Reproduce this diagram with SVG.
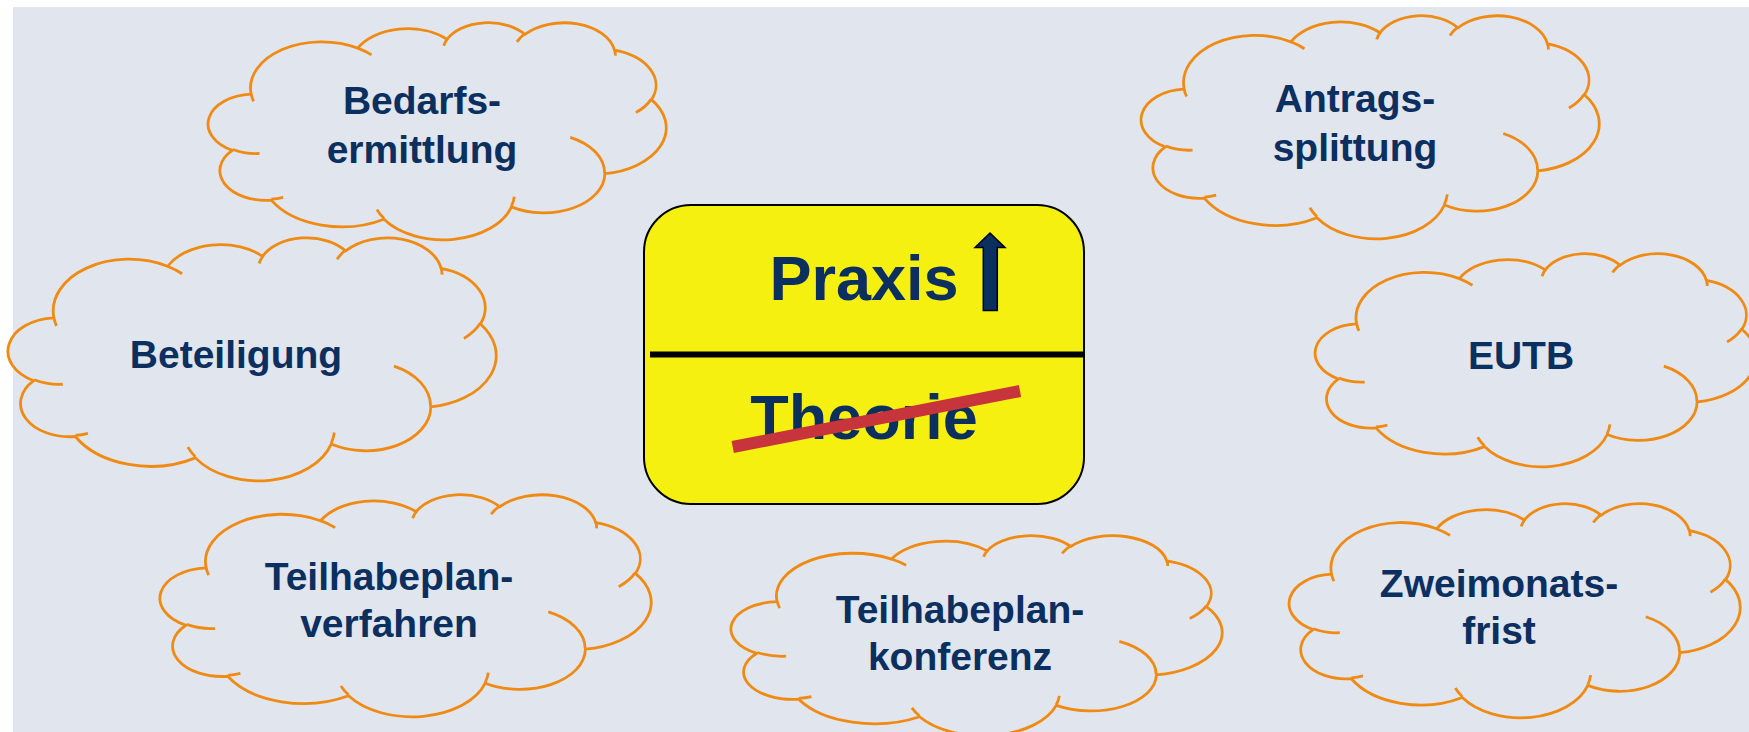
<svg xmlns="http://www.w3.org/2000/svg" width="1749" height="732" viewBox="0 0 1749 732">
  <style>
    .cloud-body { fill: #E0E5EE; stroke: #EF8A13; stroke-width: 2.8; stroke-linejoin: round; vector-effect: non-scaling-stroke; }
    .cloud-inner { fill: none; stroke: #EF8A13; stroke-width: 2.8; stroke-linecap: butt; vector-effect: non-scaling-stroke; }
    .label { font-family: "Liberation Sans", Arial, Helvetica, sans-serif; font-weight: bold; font-size: 39px; fill: #0B2F5F; text-anchor: middle; }
    .sign-text { font-family: "Liberation Sans", Arial, Helvetica, sans-serif; font-weight: bold; font-size: 63px; fill: #0B2F5F; text-anchor: middle; }
  </style>
  <defs>
    <g id="cloudShape">
      <path class="cloud-body" d="M39.00,143.70 A67.53,91.90 0 0 1 140.05,52.02 A53.33,72.67 0 0 1 224.56,34.32 A43.65,59.45 0 0 1 298.33,24.81 A48.57,65.95 0 0 1 383.18,55.76 A53.33,72.73 0 0 1 418.18,154.60 A67.75,92.20 0 0 1 374.05,302.03 A57.85,78.67 0 0 1 285.56,368.13 A67.52,92.15 0 0 1 164.81,392.64 A77.20,105.43 0 0 1 58.05,354.70 A43.60,59.18 0 0 1 21.14,255.48 A43.45,59.45 0 0 1 39.00,143.70 Z"/>
      <path class="cloud-inner" d="M46.93,261.77 A43.45,59.45 0 0 1 21.60,253.80 M69.28,348.99 A43.60,59.18 0 0 1 58.20,352.81 M164.78,390.90 A67.52,92.15 0 0 1 158.10,373.50 M288.27,347.51 A67.52,92.15 0 0 1 285.60,366.60 M341.29,229.54 A57.85,78.67 0 0 1 373.81,300.90 M417.98,153.54 A53.33,72.73 0 0 1 403.50,180.30 M383.24,54.26 A48.57,65.95 0 0 1 384.01,66.90 M290.78,39.52 A48.57,65.95 0 0 1 298.20,23.40 M221.41,47.20 A43.65,59.45 0 0 1 225.00,33.30 M140.00,51.92 A67.53,91.90 0 0 1 153.00,65.40 M41.27,157.89 A67.53,91.90 0 0 1 39.00,143.70"/>
    </g>
  </defs>

  <rect x="0" y="0" width="1749" height="732" fill="#FFFFFF"/>
  <rect x="13" y="7" width="1736" height="725" fill="#E0E5EE"/>

  <g id="connectors"></g>

  <g id="node-bedarfsermittlung">
    <use href="#cloudShape" transform="translate(210,22) scale(1.0556,0.5023)"/>
    <text class="label" x="422" y="114">Bedarfs-</text>
    <text class="label" x="422" y="163">ermittlung</text>
  </g>

  <g id="node-beteiligung">
    <use href="#cloudShape" transform="translate(10,237) scale(1.125,0.5625)"/>
    <text class="label" x="236" y="368">Beteiligung</text>
  </g>

  <g id="node-teilhabeplanverfahren">
    <use href="#cloudShape" transform="translate(162,494) scale(1.1319,0.5139)"/>
    <text class="label" x="389" y="590">Teilhabeplan-</text>
    <text class="label" x="389" y="637">verfahren</text>
  </g>

  <g id="node-teilhabeplankonferenz">
    <use href="#cloudShape" transform="translate(733,535) scale(1.1319,0.4630)"/>
    <text class="label" x="960" y="623">Teilhabeplan-</text>
    <text class="label" x="960" y="670">konferenz</text>
  </g>

  <g id="node-antragssplittung">
    <use href="#cloudShape" transform="translate(1143,15) scale(1.0556,0.5162)"/>
    <text class="label" x="1355" y="112">Antrags-</text>
    <text class="label" x="1355" y="161">splittung</text>
  </g>

  <g id="node-eutb">
    <use href="#cloudShape" transform="translate(1317,253) scale(1.0162,0.4931)"/>
    <text class="label" x="1521" y="369">EUTB</text>
  </g>

  <g id="node-zweimonatsfrist">
    <use href="#cloudShape" transform="translate(1291,503) scale(1.0394,0.4954)"/>
    <text class="label" x="1499" y="597">Zweimonats-</text>
    <text class="label" x="1499" y="644">frist</text>
  </g>

  <g id="node-sign">
    <rect x="644" y="205" width="440" height="299" rx="47" ry="47" fill="#F5F00F" stroke="#000000" stroke-width="2"/>
    <line x1="650" y1="354.5" x2="1084" y2="354.5" stroke="#000000" stroke-width="6"/>
    <text class="sign-text" x="864" y="300">Praxis</text>
    <path d="M990,233 L1005,247.5 L997.3,247.5 L997.3,310.5 L983.3,310.5 L983.3,247.5 L975,247.5 Z" fill="#0B2F5F" stroke="#000000" stroke-width="1.5" stroke-linejoin="miter"/>
    <text class="sign-text" x="864" y="439">Theorie</text>
    <line x1="732.7" y1="447" x2="1020" y2="391" stroke="#C8343B" stroke-width="12"/>
  </g>
</svg>
